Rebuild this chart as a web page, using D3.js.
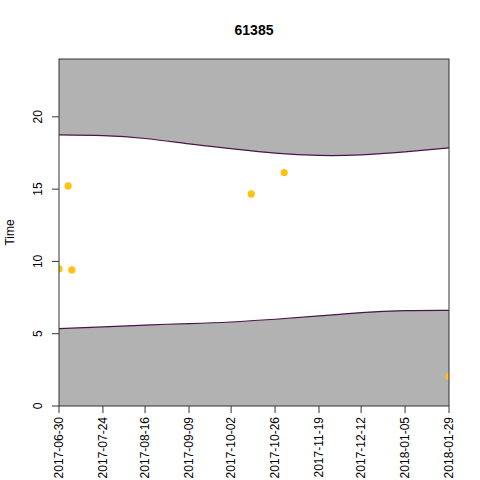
<!DOCTYPE html>
<html>
<head>
<meta charset="utf-8">
<script src="https://cdn.jsdelivr.net/npm/d3@7"></script>
<style>
  body { margin: 0; background: #fff; }
  text { font-family: "Liberation Sans", Arial, sans-serif; }
</style>
</head>
<body>
<div id="vis"></div>
<script>
// chart values
const title = '61385';
const tickDates = ['2017-06-30', '2017-07-24', '2017-08-16', '2017-09-09', '2017-10-02',
  '2017-10-26', '2017-11-19', '2017-12-12', '2018-01-05', '2018-01-29'];
const upperEdge = [18.75, 18.7, 18.5, 18.13, 17.8, 17.49, 17.33, 17.37, 17.58, 17.85];
const lowerEdge = [5.35, 5.47, 5.6, 5.7, 5.81, 6.0, 6.23, 6.46, 6.6, 6.62];
const pointDates = ['2017-06-30', '2017-07-05', '2017-07-07', '2017-10-13', '2017-10-31', '2018-01-29'];
const pointTimes = [9.48, 15.22, 9.41, 14.67, 16.15, 2.03];
const yTicks = [0, 5, 10, 15, 20];

const parse = d3.timeParse('%Y-%m-%d');

const svg = d3.select('#vis')
  .append('svg')
  .attr('width', 480)
  .attr('height', 480);

const plotLeft = 59, plotRight = 449, plotTop = 59, plotBottom = 406;

const x = d3.scaleTime()
  .domain([parse(tickDates[0]), parse(tickDates[tickDates.length - 1])])
  .range([plotLeft, plotRight]);

const y = d3.scaleLinear()
  .domain([0, 24])
  .range([plotBottom, plotTop]);

// grey bands
const bandUpper = d3.area()
  .x((d, i) => x(parse(tickDates[i])))
  .y0(y(24))
  .y1(d => y(d))
  .curve(d3.curveNatural);

const bandLower = d3.area()
  .x((d, i) => x(parse(tickDates[i])))
  .y0(y(0))
  .y1(d => y(d))
  .curve(d3.curveNatural);

const edge = d3.line()
  .x((d, i) => x(parse(tickDates[i])))
  .y(d => y(d))
  .curve(d3.curveNatural);

svg.append('path').datum(upperEdge).attr('d', bandUpper).attr('fill', '#b2b2b2');
svg.append('path').datum(lowerEdge).attr('d', bandLower).attr('fill', '#b2b2b2');
svg.append('path').datum(upperEdge).attr('d', edge)
  .attr('fill', 'none').attr('stroke', '#4a1449').attr('stroke-width', 1.2);
svg.append('path').datum(lowerEdge).attr('d', edge)
  .attr('fill', 'none').attr('stroke', '#4a1449').attr('stroke-width', 1.2);

// points, clipped to the plot region
svg.append('clipPath').attr('id', 'plotclip')
  .append('rect').attr('x', plotLeft).attr('y', plotTop)
  .attr('width', plotRight - plotLeft).attr('height', plotBottom - plotTop);

svg.append('g')
  .attr('clip-path', 'url(#plotclip)')
  .selectAll('circle')
  .data(pointTimes)
  .enter()
  .append('circle')
  .attr('cx', (d, i) => x(parse(pointDates[i])))
  .attr('cy', d => y(d))
  .attr('r', 3.6)
  .attr('fill', '#ffc20e');

// frame
svg.append('rect')
  .attr('x', plotLeft).attr('y', plotTop)
  .attr('width', plotRight - plotLeft).attr('height', plotBottom - plotTop)
  .attr('fill', 'none').attr('stroke', '#333').attr('stroke-width', 1);

// y axis
const yAxis = svg.append('g');
yAxis.selectAll('line')
  .data(yTicks)
  .enter()
  .append('line')
  .attr('x1', plotLeft).attr('x2', plotLeft - 7)
  .attr('y1', d => y(d)).attr('y2', d => y(d))
  .attr('stroke', '#333');
yAxis.selectAll('text')
  .data(yTicks)
  .enter()
  .append('text')
  .attr('transform', d => `translate(42,${y(d)}) rotate(-90)`)
  .attr('text-anchor', 'middle')
  .attr('font-size', 12)
  .text(d => d);

// x axis
const xAxis = svg.append('g');
xAxis.selectAll('line')
  .data(tickDates)
  .enter()
  .append('line')
  .attr('x1', d => x(parse(d))).attr('x2', d => x(parse(d)))
  .attr('y1', plotBottom).attr('y2', plotBottom + 7)
  .attr('stroke', '#333');
xAxis.selectAll('text')
  .data(tickDates)
  .enter()
  .append('text')
  .attr('transform', d => `translate(${x(parse(d)) + 4},417) rotate(-90)`)
  .attr('text-anchor', 'end')
  .attr('font-size', 12)
  .text(d => d);

// labels
svg.append('text')
  .attr('transform', `translate(14,${(plotTop + plotBottom) / 2}) rotate(-90)`)
  .attr('text-anchor', 'middle')
  .attr('font-size', 12)
  .text('Time');

svg.append('text')
  .attr('x', (plotLeft + plotRight) / 2)
  .attr('y', 35)
  .attr('text-anchor', 'middle')
  .attr('font-size', 14)
  .attr('font-weight', 'bold')
  .text(title);
</script>
</body>
</html>
